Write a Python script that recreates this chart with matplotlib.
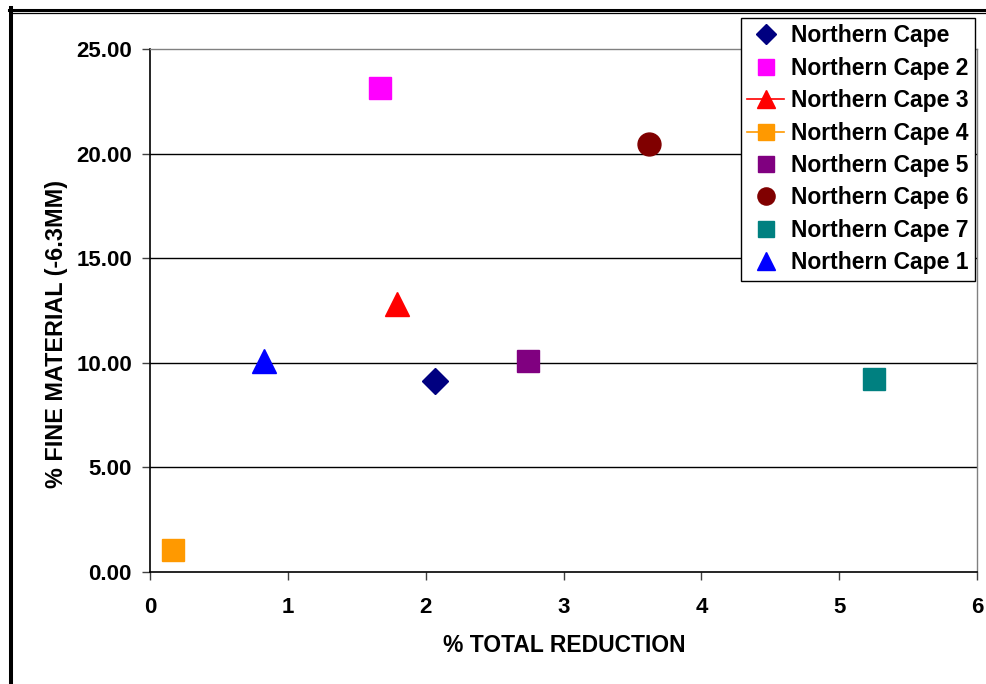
import matplotlib
matplotlib.use("Agg")
import matplotlib.pyplot as plt
from matplotlib.lines import Line2D

plt.rcParams['font.family'] = ['Liberation Sans', 'DejaVu Sans']
plt.rcParams['font.weight'] = 'bold'

# Data
series_names = ["Northern Cape", "Northern Cape 2", "Northern Cape 3", "Northern Cape 4",
                "Northern Cape 5", "Northern Cape 6", "Northern Cape 7", "Northern Cape 1"]
x_reduction = [2.07, 1.67, 1.79, 0.17, 2.74, 3.62, 5.25, 0.83]
y_fines = [9.15, 23.12, 12.83, 1.07, 10.10, 20.46, 9.24, 10.10]
colors = ["#000080", "#FF00FF", "#FF0000", "#FF9900", "#800080", "#800000", "#008080", "#0000FF"]
markers = ["D", "s", "^", "s", "s", "o", "s", "^"]
msizes = [13.5, 16, 17, 16, 16, 16.5, 16, 17]
legend_lines = [False, False, True, True, False, False, False, False]

x_ticks = [0, 1, 2, 3, 4, 5, 6]
y_ticks = [0, 5, 10, 15, 20, 25]
y_ticklabels = ["0.00", "5.00", "10.00", "15.00", "20.00", "25.00"]

W, H = 986, 684
fig = plt.figure(figsize=(W / 100, H / 100), dpi=100)
ax = fig.add_axes([150 / W, 1 - 572 / H, (977 - 150) / W, (572 - 49) / H])

for yv in y_ticks[1:-1]:
    ax.axhline(yv, color="#000000", lw=1.0, zorder=1)

handles = []
for name, xv, yv, c, m, s, ln in zip(series_names, x_reduction, y_fines, colors, markers, msizes, legend_lines):
    ax.plot([xv], [yv], linestyle="none", marker=m, markersize=s, color=c,
            markeredgecolor=c, zorder=3)
    handles.append(Line2D([0], [0], color=c, marker=m, markersize=s * 0.75,
                          markeredgecolor=c, linestyle="-" if ln else "none", lw=1.2))

ax.set_xlim(0, 6)
ax.set_ylim(0, 25)
ax.set_xticks(x_ticks)
ax.set_xticklabels([str(t) for t in x_ticks])
ax.set_yticks(y_ticks)
ax.set_yticklabels(y_ticklabels)
ax.tick_params(axis="both", direction="out", length=6, width=1, color="#404040",
               labelsize=16)
ax.tick_params(axis="y", pad=7)
ax.tick_params(axis="x", pad=12)

for side in ["left", "bottom"]:
    ax.spines[side].set_color("#000000")
    ax.spines[side].set_linewidth(1.2)
for side in ["top", "right"]:
    ax.spines[side].set_color("#808080")
    ax.spines[side].set_linewidth(1.0)

fig.text(564 / W, 1 - 645 / H, "% TOTAL REDUCTION", ha="center", va="center",
         fontsize=16.5, fontweight="bold")
fig.text(57 / W, 1 - 334 / H, "% FINE MATERIAL (-6.3MM)", ha="center", va="center",
         rotation=90, fontsize=16.8, fontweight="bold")

leg = fig.legend(handles, series_names, loc="upper right",
                 bbox_to_anchor=(975 / W, 1 - 18 / H), bbox_transform=fig.transFigure,
                 borderaxespad=0, fancybox=False, frameon=True, edgecolor="#000000",
                 framealpha=1, fontsize=16.5, handlelength=1.6, handletextpad=0.3,
                 labelspacing=0.41, borderpad=0.28)
leg.get_frame().set_linewidth(1.0)
for t in leg.get_texts():
    t.set_fontweight("bold")

# figure frame
fig.add_artist(Line2D([9 / W, 1], [1 - 9.5 / H, 1 - 9.5 / H], color="black", lw=2.2,
                      transform=fig.transFigure))
fig.add_artist(Line2D([13 / W, 1], [1 - 12.8 / H, 1 - 12.8 / H], color="black", lw=0.9,
                      transform=fig.transFigure))
fig.add_artist(Line2D([11 / W, 11 / W], [0, 1 - 8 / H], color="black", lw=2.9,
                      transform=fig.transFigure))

fig.savefig("out.png", dpi=100)
